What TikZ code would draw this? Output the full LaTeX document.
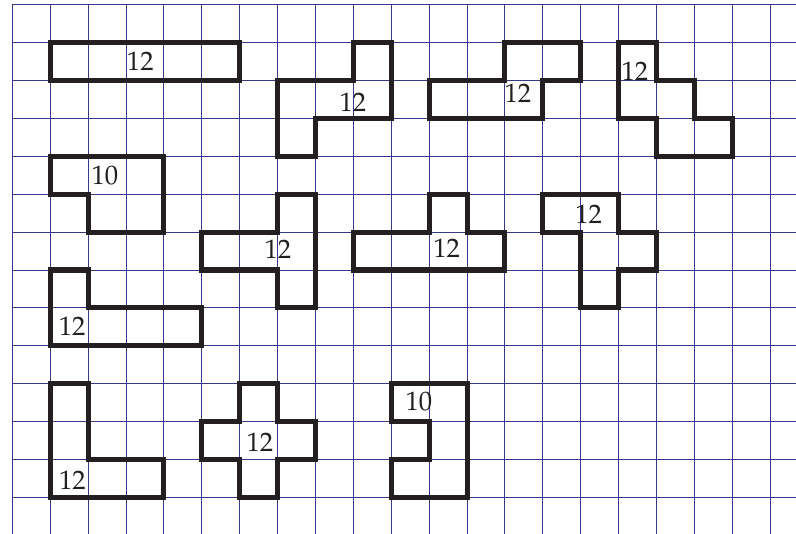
\documentclass[tikz,border=0pt]{standalone}
\usepackage[T1]{fontenc}
\usepackage{mathpazo}
\usepackage{tikz}
\usepackage{xcolor}
\definecolor{gridblue}{RGB}{55,55,140}
\definecolor{inkblack}{RGB}{35,31,32}

\begin{document}
\begin{tikzpicture}[x=1cm,y=1cm,
    piece/.style={line width=3.8pt,inkblack},
    num/.style={inner sep=0pt,text=inkblack,font=\fontsize{20}{22}\selectfont}]
  \useasboundingbox (-0.3245,0.124) rectangle (20.68,-13.966);
  \fill[white] (-0.3245,0.124) rectangle (20.68,-13.966);
  \draw[gridblue,line width=0.7pt] (0,0) grid (20.68,-13.966);
  % top row
  \draw[piece] (1,-1) rectangle (6,-2);
  \draw[piece] (9,-1) -- (10,-1) -- (10,-3) -- (8,-3) -- (8,-4) -- (7,-4) -- (7,-2) -- (9,-2) -- cycle;
  \draw[piece] (11,-2) -- (13,-2) -- (13,-1) -- (15,-1) -- (15,-2) -- (14,-2) -- (14,-3) -- (11,-3) -- cycle;
  \draw[piece] (16,-1) -- (17,-1) -- (17,-2) -- (18,-2) -- (18,-3) -- (19,-3) -- (19,-4) -- (17,-4) -- (17,-3) -- (16,-3) -- cycle;
  \node[num] (bar) at (3.377,-1.504) {12};
  \node[num] (stair) at (8.99,-2.567) {12};
  \node[num] (hook) at (13.34,-2.33) {12};
  \node[num] (zigzag) at (16.43,-1.75) {12};
  % middle rows
  \draw[piece] (1,-4) -- (4,-4) -- (4,-6) -- (2,-6) -- (2,-5) -- (1,-5) -- cycle;
  \draw[piece] (5,-6) -- (7,-6) -- (7,-5) -- (8,-5) -- (8,-8) -- (7,-8) -- (7,-7) -- (5,-7) -- cycle;
  \draw[piece] (9,-6) -- (11,-6) -- (11,-5) -- (12,-5) -- (12,-6) -- (13,-6) -- (13,-7) -- (9,-7) -- cycle;
  \draw[piece] (14,-5) -- (16,-5) -- (16,-6) -- (17,-6) -- (17,-7) -- (16,-7) -- (16,-8) -- (15,-8) -- (15,-6) -- (14,-6) -- cycle;
  \draw[piece] (1,-7) -- (2,-7) -- (2,-8) -- (5,-8) -- (5,-9) -- (1,-9) -- cycle;
  \node[num] (block) at (2.446,-4.52) {10};
  \node[num] (tee) at (7.01,-6.45) {12};
  \node[num] (bump) at (11.46,-6.42) {12};
  \node[num] (cross) at (15.21,-5.54) {12};
  \node[num] (ell) at (1.58,-8.48) {12};
  % bottom row
  \draw[piece] (1,-10) -- (2,-10) -- (2,-12) -- (4,-12) -- (4,-13) -- (1,-13) -- cycle;
  \draw[piece] (6,-10) -- (7,-10) -- (7,-11) -- (8,-11) -- (8,-12) -- (7,-12) -- (7,-13) -- (6,-13) -- (6,-12) -- (5,-12) -- (5,-11) -- (6,-11) -- cycle;
  \draw[piece] (10,-10) -- (12,-10) -- (12,-13) -- (10,-13) -- (10,-12) -- (11,-12) -- (11,-11) -- (10,-11) -- cycle;
  \node[num] (corner) at (1.588,-12.54) {12};
  \node[num] (plus) at (6.536,-11.56) {12};
  \node[num] (notch) at (10.73,-10.46) {10};
\end{tikzpicture}
\end{document}
